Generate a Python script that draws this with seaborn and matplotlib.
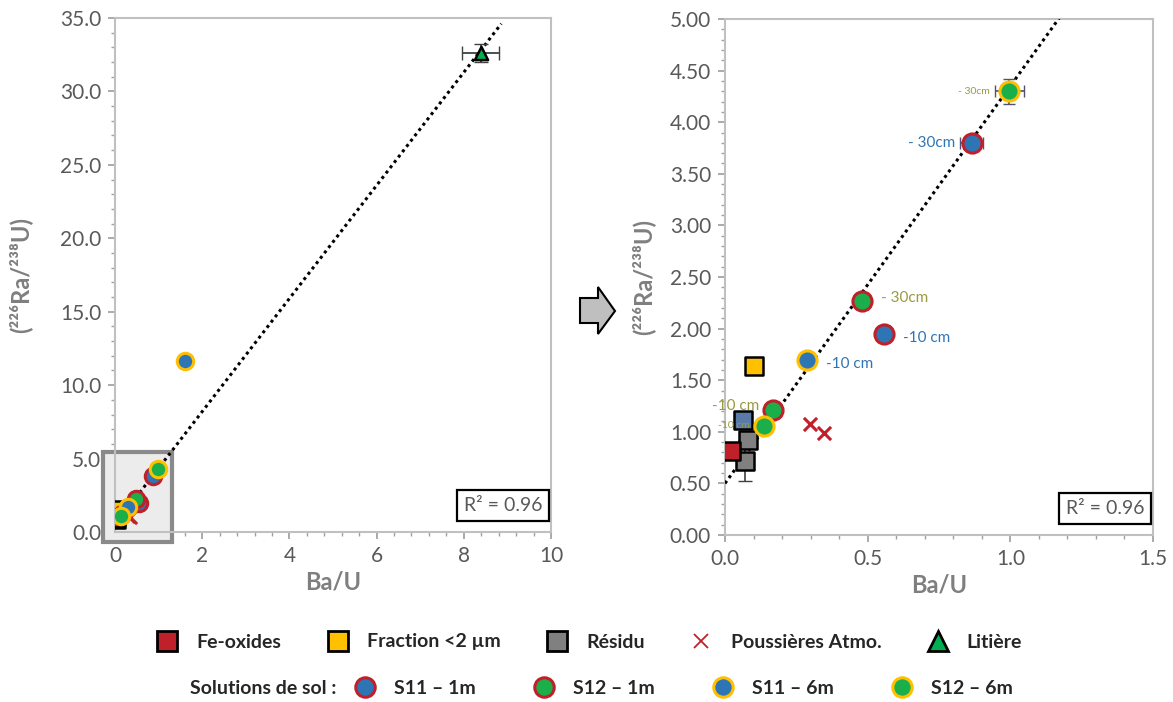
import numpy as np
import matplotlib
matplotlib.use("Agg")
import matplotlib.pyplot as plt
import matplotlib.patches as mpatches
from matplotlib.lines import Line2D
from matplotlib.ticker import MultipleLocator, FormatStrFormatter
import seaborn as sns

# data (Ba/U, 226Ra/238U)
fe_x = [0.02]
fe_y = [0.81]
frac_x = [0.10]
frac_y = [1.64]
res_x = [0.08, 0.07]
res_y = [0.92, 0.72]
res_yerr = [0.05, 0.2]
bluesq_x = [0.063]
bluesq_y = [1.11]
dust_x = [0.297, 0.346]
dust_y = [1.08, 0.99]
lit_x = [8.39]
lit_y = [32.6]
lit_xerr = [0.42]
lit_yerr = [0.6]
s11_1m_x = [0.864, 0.556]
s11_1m_y = [3.80, 1.95]
s11_1m_depth = ["- 30cm", "-10 cm"]
s12_1m_x = [0.479, 0.168]
s12_1m_y = [2.27, 1.21]
s12_1m_depth = ["- 30cm", "-10 cm"]
s11_6m_x = [1.60, 0.287]
s11_6m_y = [11.64, 1.70]
s11_6m_depth = ["", "-10 cm"]
s12_6m_x = [0.997, 0.136]
s12_6m_y = [4.30, 1.06]
s12_6m_depth = ["- 30cm", "-10 cm"]

# linear trend (R2 = 0.96)
trend_slope = 3.85
trend_intercept = 0.5
r2_text = "R² = 0.96"

RED = "#c0202a"
YEL = "#ffc000"
GRAY = "#808080"
GREEN = "#1aaf4b"
BLUE = "#2e75b6"
OLIVE = "#9a9a40"
TXT = "#595959"

sns.set_theme(style="white")
plt.rcParams["font.family"] = ["Lato", "DejaVu Sans"]

fig = plt.figure(figsize=(11.73, 7.02), dpi=100)
axL = fig.add_axes([115 / 1173, 1 - 532 / 702, 436 / 1173, 514 / 702])
axR = fig.add_axes([725 / 1173, 1 - 535 / 702, 428 / 1173, 516 / 702])


def draw_points(ax, big):
    sq = 150 if big else 110
    ci = 190 if big else 140
    sns.scatterplot(x=res_x, y=res_y, ax=ax, marker="s", s=sq, color=GRAY,
                    edgecolor="black", linewidth=1.8, zorder=5)
    ax.errorbar(res_x, res_y, yerr=res_yerr, fmt="none", ecolor="#404040",
                elinewidth=1.2, capsize=5, zorder=4)
    sns.scatterplot(x=bluesq_x, y=bluesq_y, ax=ax, marker="s", s=sq, color="#5a7aa8",
                    edgecolor="black", linewidth=1.8, zorder=5)
    sns.scatterplot(x=fe_x, y=fe_y, ax=ax, marker="s", s=sq, color=RED,
                    edgecolor="black", linewidth=1.8, zorder=5)
    sns.scatterplot(x=frac_x, y=frac_y, ax=ax, marker="s", s=sq, color=YEL,
                    edgecolor="black", linewidth=1.8, zorder=5)
    sns.scatterplot(x=dust_x, y=dust_y, ax=ax, marker="x", s=90, color=RED,
                    linewidth=2.2, zorder=5)
    for xs, ys, fc, ec in [(s11_1m_x, s11_1m_y, BLUE, RED),
                           (s12_1m_x, s12_1m_y, GREEN, RED),
                           (s11_6m_x, s11_6m_y, BLUE, YEL),
                           (s12_6m_x, s12_6m_y, GREEN, YEL)]:
        sns.scatterplot(x=xs, y=ys, ax=ax, marker="o", s=ci, color=fc,
                        edgecolor=ec, linewidth=2.2, zorder=6)
    ax.errorbar(s12_6m_x[:1], s12_6m_y[:1], xerr=0.05, yerr=0.12, fmt="none",
                ecolor="#505070", elinewidth=1.2, capsize=4, zorder=5)
    ax.errorbar(s11_1m_x[:1], s11_1m_y[:1], xerr=0.04, fmt="none",
                ecolor="#505070", elinewidth=1.2, capsize=4, zorder=5)
    sns.scatterplot(x=lit_x, y=lit_y, ax=ax, marker="^", s=90, color="#00b050",
                    edgecolor="black", linewidth=1.8, zorder=6)
    ax.errorbar(lit_x, lit_y, xerr=lit_xerr, yerr=lit_yerr, fmt="none",
                ecolor="#404040", elinewidth=1.3, capsize=5, zorder=5)


def style_axes(ax, ylab_x):
    for sp in ax.spines.values():
        sp.set_color("#c0c0c0")
        sp.set_linewidth(1.5)
    ax.tick_params(which="both", direction="out", colors="#a0a0a0",
                   labelcolor=TXT, labelsize=15, bottom=True, left=True)
    ax.tick_params(which="major", length=5, pad=5)
    ax.tick_params(which="minor", length=3)
    ax.set_xlabel("Ba/U", fontsize=17, fontweight="bold", color="#7f7f7f")
    ax.set_ylabel("(²²⁶Ra/²³⁸U)", fontsize=17, fontweight="bold", color="#7f7f7f")
    ax.xaxis.set_label_coords(0.5, -0.075)
    ax.yaxis.set_label_coords(ylab_x, 0.5)
    ax.text(0.98, 0.035, r2_text, transform=ax.transAxes, ha="right", va="bottom",
            fontsize=14, color=TXT,
            bbox=dict(boxstyle="square,pad=0.35", fc="white", ec="black", lw=1.6))


# left panel
axL.set_xlim(0, 10)
axL.set_ylim(0, 35)
axL.add_patch(mpatches.Rectangle((-0.28, -0.68), 1.59, 6.13, fc="#ececec",
                                 ec="#8a8a8a", lw=3, clip_on=False, zorder=1))
tx = np.linspace(0, 8.86, 50)
sns.lineplot(x=tx, y=trend_slope * tx + trend_intercept, ax=axL, color="black",
             linestyle=(0, (1, 1.2)), linewidth=2.2, zorder=3)
draw_points(axL, False)
axL.xaxis.set_major_locator(MultipleLocator(2))
axL.xaxis.set_minor_locator(MultipleLocator(0.4))
axL.yaxis.set_major_locator(MultipleLocator(5))
axL.yaxis.set_minor_locator(MultipleLocator(1))
axL.yaxis.set_major_formatter(FormatStrFormatter("%.1f"))
style_axes(axL, -(115 - 32) / 436)

# right panel (zoom)
axR.set_xlim(0, 1.5)
axR.set_ylim(0, 5)
tx = np.linspace(0, 1.2, 50)
sns.lineplot(x=tx, y=trend_slope * tx + trend_intercept, ax=axR, color="black",
             linestyle=(0, (1, 1.2)), linewidth=2.2, zorder=3)
draw_points(axR, True)
axR.xaxis.set_major_locator(MultipleLocator(0.5))
axR.xaxis.set_minor_locator(MultipleLocator(0.1))
axR.yaxis.set_major_locator(MultipleLocator(0.5))
axR.yaxis.set_minor_locator(MultipleLocator(0.1))
axR.xaxis.set_major_formatter(FormatStrFormatter("%.1f"))
axR.yaxis.set_major_formatter(FormatStrFormatter("%.2f"))
style_axes(axR, -(725 - 655) / 428)

# depth labels on the zoom panel
lab_pos = {  # offsets in points, alignment, size
    ("s11_1m", 0): ((-12, 0), "right", 11),
    ("s11_1m", 1): ((14, -3), "left", 11),
    ("s12_1m", 0): ((14, 2), "left", 11),
    ("s12_1m", 1): ((-10, 3), "right", 11),
    ("s11_6m", 1): ((14, -3), "left", 11),
    ("s12_6m", 0): ((-14, 0), "right", 7.5),
    ("s12_6m", 1): ((-10, 0), "right", 7.5),
}
series = {"s11_1m": (s11_1m_x, s11_1m_y, s11_1m_depth, BLUE),
          "s12_1m": (s12_1m_x, s12_1m_y, s12_1m_depth, OLIVE),
          "s11_6m": (s11_6m_x, s11_6m_y, s11_6m_depth, BLUE),
          "s12_6m": (s12_6m_x, s12_6m_y, s12_6m_depth, OLIVE)}
for (name, i), (off, ha, fs) in lab_pos.items():
    xs, ys, depth, col = series[name]
    axR.annotate(depth[i], (xs[i], ys[i]), xytext=off, textcoords="offset points",
                 ha=ha, va="center", fontsize=fs, color=col, zorder=7)

# block arrow between panels
axA = fig.add_axes([578 / 1173, 1 - 336 / 702, 40 / 1173, 50 / 702])
axA.set_xlim(578, 618)
axA.set_ylim(336, 286)
axA.axis("off")
axA.add_patch(mpatches.Polygon([(580, 298), (598, 298), (598, 287), (615, 311),
                                (598, 334), (598, 323), (580, 323)],
                               closed=True, fc="#bfbfbf", ec="black", lw=1.5))

# legend
kw = dict(linestyle="none", markersize=14)
row1 = [Line2D([], [], marker="s", mfc=RED, mec="black", mew=2, **kw),
        Line2D([], [], marker="s", mfc=YEL, mec="black", mew=2, **kw),
        Line2D([], [], marker="s", mfc=GRAY, mec="black", mew=2, **kw),
        Line2D([], [], marker="x", color=RED, mew=1.3, linestyle="none", markersize=10),
        Line2D([], [], marker="^", mfc="#00b050", mec="black", mew=2, **kw)]
lab1 = ["Fe-oxides", "Fraction <2 µm", "Résidu", "Poussières Atmo.", "Litière"]
fig.legend(row1, lab1, loc="center", bbox_to_anchor=(590 / 1173, 1 - 642 / 702), ncol=5,
           frameon=False, columnspacing=2.4, handlelength=1.0, handletextpad=1.0,
           prop={"weight": "bold", "size": 14})
row2 = [Line2D([], [], marker="o", mfc=BLUE, mec=RED, mew=2.2, **kw),
        Line2D([], [], marker="o", mfc=GREEN, mec=RED, mew=2.2, **kw),
        Line2D([], [], marker="o", mfc=BLUE, mec=YEL, mew=2.2, **kw),
        Line2D([], [], marker="o", mfc=GREEN, mec=YEL, mew=2.2, **kw)]
lab2 = ["S11 – 1m", "S12 – 1m", "S11 – 6m", "S12 – 6m"]
fig.text(190 / 1173, 1 - 688 / 702, "Solutions de sol :", fontsize=14, fontweight="bold",
         va="center", ha="left")
fig.legend(row2, lab2, loc="center", bbox_to_anchor=(684 / 1173, 1 - 688 / 702), ncol=4,
           frameon=False, columnspacing=3.0, handlelength=1.0, handletextpad=1.0,
           prop={"weight": "bold", "size": 14})

fig.savefig("out.png", dpi=100)
